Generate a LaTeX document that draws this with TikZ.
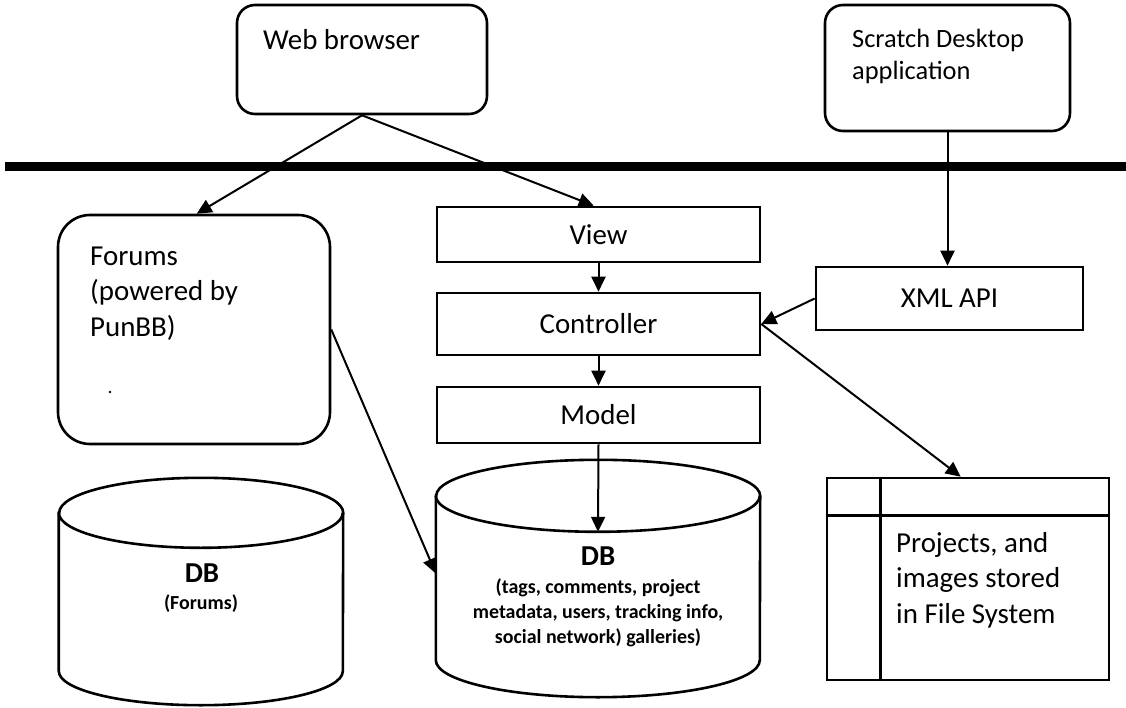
\documentclass[tikz,border=0pt]{standalone}
\usepackage{fontspec}
\setmainfont{Carlito}
\usetikzlibrary{arrows.meta,calc}
\begin{document}
\begin{tikzpicture}[x=1bp,y=1bp,
  boxline/.style={draw=black, line width=2.6bp},
  plainbox/.style={boxline, rectangle, inner sep=0pt},
  roundbox/.style={boxline, rectangle, rounded corners=18bp, inner sep=0pt},
  body/.style={font=\fontsize{29}{35}\selectfont, inner sep=0pt},
  smallbody/.style={font=\fontsize{26.5}{32}\selectfont, inner sep=0pt},
  dbtitle/.style={font=\bfseries\fontsize{29}{35}\selectfont, inner sep=0pt},
  dbnote/.style={font=\bfseries\fontsize{20}{25}\selectfont, inner sep=0pt},
  dbarea/.style={rectangle, inner sep=0pt},
  link/.style={line width=2bp, -{Triangle[length=15bp,width=14bp]}},
  plainlink/.style={line width=2bp},
]
\useasboundingbox (0,0) rectangle (1126,-708);

% client side
\node[roundbox, minimum width=250bp, minimum height=109bp] (web) at (362,-59.5) {};
\node[body, anchor=base west] (webtext) at (263,-50) {Web browser};

\node[roundbox, minimum width=245bp, minimum height=126bp] (scratch) at (947.5,-68) {};
\foreach \line [count=\i from 0] in {Scratch Desktop,application}
  \node[smallbody, anchor=base west] (scratchtext\i) at (852,-48-32*\i) {\line};

% separator between client and server
\coordinate (barL) at (5,-166.5);
\coordinate (barR) at (1126,-166.5);
\draw[line width=9bp] (barL) -- (barR);

% forums
\node[boxline, rectangle, rounded corners=32bp, inner sep=0pt,
      minimum width=272bp, minimum height=229bp] (forums) at (194,-329.5) {};
\foreach \line [count=\i from 0] in {Forums,{(powered by},{PunBB)}}
  \node[body, anchor=base west] (forumstext\i) at (90,-265-35.5*\i) {\line};
\fill (110,-392) circle[radius=1.3bp];

% MVC stack
\node[plainbox, body, minimum width=323bp, minimum height=55bp] (view) at (598.5,-234.5) {View};
\node[plainbox, body, minimum width=323bp, minimum height=62bp] (controller) at (598.5,-324) {Controller};
\node[plainbox, body, minimum width=323bp, minimum height=56bp] (model) at (598.5,-415) {Model};

\node[plainbox, body, minimum width=267bp, minimum height=63bp] (xml) at (949.5,-298.5) {XML API};

% forums database
\node[dbarea, minimum width=284bp, minimum height=227bp] (dbforums) at (201,-591.5) {};
\draw[boxline] ($(dbforums.north west)+(0,-35)$) -- ($(dbforums.south west)+(0,34)$)
  arc[start angle=180, end angle=360, x radius=142, y radius=34]
  -- ($(dbforums.north east)+(0,-35)$)
  arc[start angle=0, end angle=180, x radius=142, y radius=35] -- cycle;
\draw[boxline] ($(dbforums.north west)+(0,-35)$)
  arc[start angle=180, end angle=360, x radius=142, y radius=35];
\node[dbtitle, anchor=base] (dbforumstitle) at (202,-582) {DB};
\node[dbnote, anchor=base] (dbforumsnote) at (201,-609) {(Forums)};

% main database
\node[dbarea, minimum width=324bp, minimum height=237bp] (dbmain) at (598,-578.5) {};
\draw[boxline] ($(dbmain.north west)+(0,-36)$) -- ($(dbmain.south west)+(0,37)$)
  arc[start angle=180, end angle=360, x radius=162, y radius=37]
  -- ($(dbmain.north east)+(0,-36)$)
  arc[start angle=0, end angle=180, x radius=162, y radius=36] -- cycle;
\draw[boxline] ($(dbmain.north west)+(0,-36)$)
  arc[start angle=180, end angle=360, x radius=162, y radius=36];
\node[dbtitle, anchor=base] (dbmaintitle) at (598,-565) {DB};
\foreach \line [count=\i from 0] in {{(tags, comments, project},{metadata, users, tracking info,},{social network) galleries)}}
  \node[dbnote, anchor=base] (dbmainnote\i) at (598,-593-25*\i) {\line};

% file system store
\node[plainbox, minimum width=282bp, minimum height=202bp] (files) at (968,-579) {};
\coordinate (filesV) at ($(files.north west)+(55,0)$);
\coordinate (filesH) at ($(files.north west)+(0,-39)$);
\draw[boxline] (filesV) -- (filesV |- files.south);
\draw[boxline] (filesH) -- (filesH -| files.east);
\foreach \line [count=\i from 0] in {{Projects, and},images stored,in File System}
  \node[body, anchor=base west] (filestext\i) at (896,-552-35.5*\i) {\line};

% connectors
\draw[link] (web.south) -- ($(forums.north west)+(140,0)$);
\draw[link] (web.south) -- ($(view.north west)+(158,0)$);
\draw[link] (view.south) -- (controller.north);
\draw[link] (controller.south) -- (model.north);
\draw[link] (model.south) -- ($(dbmain.north)+(0,-72)$);
\draw[link] (scratch.south) -- (scratch.south |- xml.north);
\draw[link] (xml.west) -- (controller.east);
\draw[link] (controller.east) -- ($(files.north west)+(135,0)$);
\draw[link] (forums.east) -- ($(dbmain.west)+(0,5)$);
\end{tikzpicture}
\end{document}
